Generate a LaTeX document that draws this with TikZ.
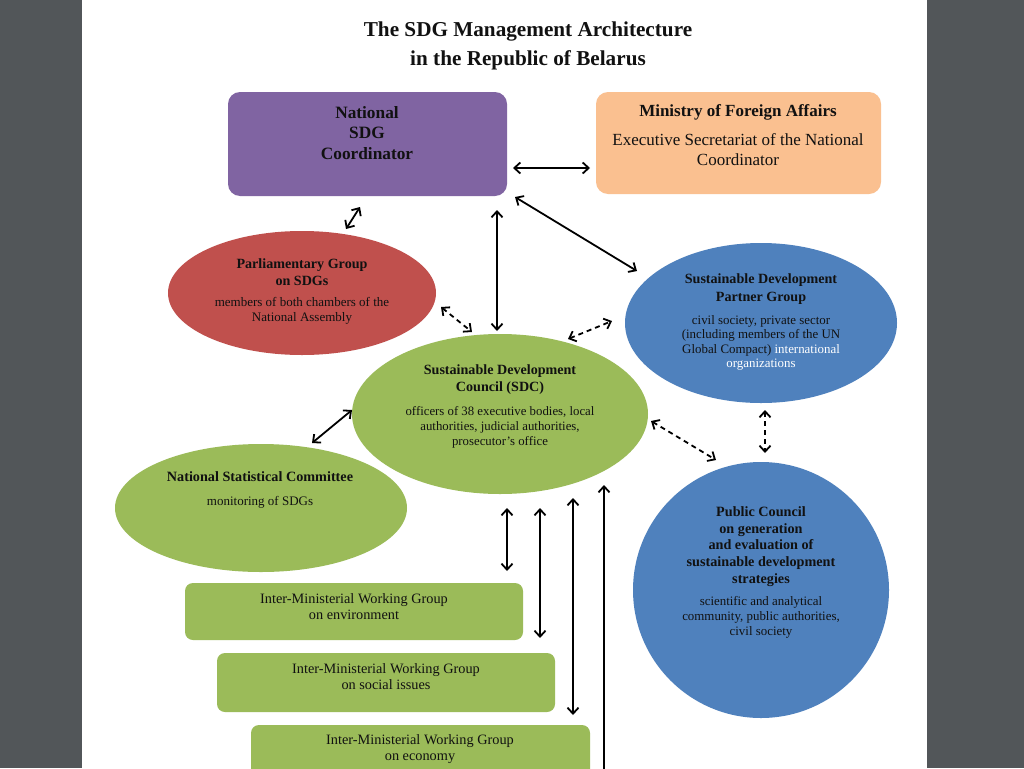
\documentclass[tikz,border=0pt]{standalone}
\usepackage{fontspec}
\setmainfont{Liberation Serif}
\usetikzlibrary{arrows.meta,shapes.geometric}
\definecolor{viewer}{HTML}{525659}
\definecolor{cpurple}{HTML}{8064A2}
\definecolor{cpeach}{HTML}{FAC090}
\definecolor{cred}{HTML}{C0504D}
\definecolor{cblue}{HTML}{4F81BD}
\definecolor{cgreen}{HTML}{9BBB59}
\definecolor{ink}{HTML}{111111}
\tikzset{
  box/.style={rounded corners=12pt, draw=none, inner sep=0pt},
  oval/.style={ellipse, draw=none, inner sep=0pt},
  txt/.style={align=center, inner sep=0pt, text=ink},
  dbl/.style={line width=1.8pt, arrows={Straight Barb[length=6pt,width=11pt]-Straight Barb[length=6pt,width=11pt]}},
  dashdbl/.style={dbl, dash pattern=on 5pt off 4pt},
  uparrow/.style={line width=1.8pt, arrows={-Straight Barb[length=6pt,width=11pt]}},
}
\begin{document}
\begin{tikzpicture}[x=1pt,y=-1pt]
\useasboundingbox (0,0) rectangle (1024,768);
\begin{scope}
\clip (0,0) rectangle (1024,768);
\fill[viewer] (0,0) rectangle (1024,768);
\fill[white] (82,0) rectangle (927,768);

% title
\node[txt, font=\fontsize{21.2}{29}\selectfont\bfseries] (title) at (528,46) {The SDG Management Architecture\\in the Republic of Belarus};

% top boxes
\node[box, fill=cpurple, minimum width=279pt, minimum height=104pt] (nsc) at (367.5,144) {};
\node[txt, font=\fontsize{17.3}{20.5}\selectfont\bfseries] (nsct) at (367,133) {National\\SDG\\Coordinator};
\node[box, fill=cpeach, minimum width=285pt, minimum height=102pt] (mfa) at (738.5,143) {};
\node[txt, font=\fontsize{17}{20}\selectfont\bfseries] (mfat) at (738,112) {Ministry of Foreign Affairs};
\node[txt, font=\fontsize{17}{20}\selectfont] (mfas) at (738,150) {Executive Secretariat of the National\\Coordinator};

% parliamentary group
\node[oval, fill=cred, minimum width=268pt, minimum height=124pt] (parl) at (302,293) {};
\node[txt, font=\fontsize{14.1}{17}\selectfont\bfseries] (parlt) at (302,272) {Parliamentary Group\\on SDGs};
\node[txt, font=\fontsize{13}{15}\selectfont] (parls) at (302,311) {members of both chambers of the\\National Assembly};

% partner group
\node[oval, fill=cblue, minimum width=272pt, minimum height=160pt] (part) at (761,323) {};
\node[txt, font=\fontsize{14.1}{17.5}\selectfont\bfseries] (partt) at (761,289) {Sustainable Development\\Partner Group};
\node[txt, font=\fontsize{12.9}{14.5}\selectfont] (parts) at (761,343) {civil society, private sector\\(including members of the UN\\Global Compact) \textcolor{white}{international}\\\textcolor{white}{organizations}};

% SDC
\node[oval, fill=cgreen, minimum width=296pt, minimum height=160pt] (sdc) at (500,414) {};
\node[txt, font=\fontsize{14.1}{17}\selectfont\bfseries] (sdct) at (500,380) {Sustainable Development\\Council (SDC)};
\node[txt, font=\fontsize{12.8}{15}\selectfont] (sdcs) at (500,427) {officers of 38 executive bodies, local\\authorities, judicial authorities,\\prosecutor's office};

% national statistical committee
\node[oval, fill=cgreen, minimum width=292pt, minimum height=128pt] (nstat) at (261,508) {};
\node[txt, font=\fontsize{14.2}{15}\selectfont\bfseries] (nstatt) at (260,477) {National Statistical Committee};
\node[txt, font=\fontsize{13}{15}\selectfont] (nstats) at (260,502) {monitoring of SDGs};

% public council
\node[circle, fill=cblue, draw=none, minimum size=256pt, inner sep=0pt] (pub) at (761,590) {};
\node[txt, font=\fontsize{14.2}{16.7}\selectfont\bfseries] (pubt) at (761,546.5) {Public Council\\on generation\\and evaluation of\\sustainable development\\strategies};
\node[txt, font=\fontsize{12.9}{15}\selectfont] (pubs) at (761,617) {scientific and analytical\\community, public authorities,\\civil society};

% inter-ministerial working groups
\node[box, rounded corners=8pt, fill=cgreen, minimum width=338pt, minimum height=57pt] (env) at (354,611.5) {};
\node[txt, font=\fontsize{14.3}{16}\selectfont] (envt) at (354,607) {Inter-Ministerial Working Group\\on environment};
\node[box, rounded corners=8pt, fill=cgreen, minimum width=338pt, minimum height=59pt] (soc) at (386,682.5) {};
\node[txt, font=\fontsize{14.3}{16}\selectfont] (soct) at (386,677) {Inter-Ministerial Working Group\\on social issues};
\node[box, rounded corners=8pt, fill=cgreen, minimum width=339pt, minimum height=80pt] (eco) at (420.5,765) {};
\node[txt, font=\fontsize{14.3}{16}\selectfont] (ecot) at (420,749) {Inter-Ministerial Working Group\\on economy};

% connector end points
\coordinate (a1) at (513,168); \coordinate (b1) at (590,168);
\coordinate (a2) at (360,207); \coordinate (b2) at (346,229);
\coordinate (a3) at (497,210); \coordinate (b3) at (497,331);
\coordinate (a4) at (515,197); \coordinate (b4) at (637,271);
\coordinate (a5) at (441,307); \coordinate (b5) at (472,332);
\coordinate (a6) at (568,339); \coordinate (b6) at (612,321);
\coordinate (a7) at (651,421); \coordinate (b7) at (716,460);
\coordinate (a8) at (765,410); \coordinate (b8) at (765,453);
\coordinate (a9) at (352,410); \coordinate (b9) at (312,443);
\coordinate (a10) at (507,508); \coordinate (b10) at (507,571);
\coordinate (a11) at (540,508); \coordinate (b11) at (540,638);
\coordinate (a12) at (573,498); \coordinate (b12) at (573,715);
\coordinate (a13) at (604,790); \coordinate (b13) at (604,485);

\draw[dbl] (a1) -- (b1);
\draw[dbl] (a2) -- (b2);
\draw[dbl] (a3) -- (b3);
\draw[dbl] (a4) -- (b4);
\draw[dashdbl] (a5) -- (b5);
\draw[dashdbl] (a6) -- (b6);
\draw[dashdbl] (a7) -- (b7);
\draw[dashdbl] (a8) -- (b8);
\draw[dbl] (a9) -- (b9);
\draw[dbl] (a10) -- (b10);
\draw[dbl] (a11) -- (b11);
\draw[dbl] (a12) -- (b12);
\draw[uparrow] (a13) -- (b13);
\end{scope}
\end{tikzpicture}
\end{document}
